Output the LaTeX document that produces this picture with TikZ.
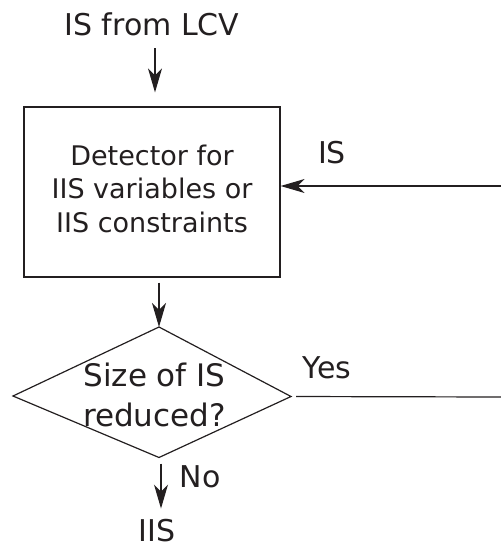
\documentclass[tikz,border=0pt]{standalone}
\usepackage{fontspec}
\setmainfont{DejaVu Sans}
\usetikzlibrary{arrows.meta}
\definecolor{ink}{RGB}{35,31,32}
\tikzset{
  arr/.style={draw=ink, line width=1.2pt, -{Stealth[length=24pt, width=14pt, inset=7pt]}},
  plain/.style={draw=ink, line width=1.2pt},
  lbl/.style={inner sep=0pt, text=ink, font=\fontsize{30}{36}\selectfont},
  boxtext/.style={inner sep=0pt, text=ink, align=center, font=\fontsize{27}{33.5}\selectfont},
  dtext/.style={inner sep=0pt, text=ink, align=center, font=\fontsize{31}{40}\selectfont},
  detbox/.style={draw=ink, line width=1.2pt, minimum width=256pt, minimum height=170pt, inner sep=0pt}
}
\begin{document}
\begin{tikzpicture}[x=1pt, y=-1pt]
\path[use as bounding box] (0,0) rectangle (501,547);

% nodes
\node[lbl, anchor=base] (title) at (152,35.5) {IS from LCV};
\node[detbox] (det) at (152,192) {};
\node[boxtext] (dettext) at (152,188.5) {Detector for\\IIS variables or\\IIS constraints};

\coordinate (dtop) at (159,327);
\coordinate (dright) at (291,396.5);
\coordinate (dbot) at (159,457.5);
\coordinate (dleft) at (13,396);
\draw[plain, line join=miter] (dtop) -- (dright) -- (dbot) -- (dleft) -- cycle;
\node[dtext] (dq) at (154.5,395) {Size of IS\\reduced?};

\node[lbl, anchor=base] (islbl) at (332,163) {IS};
\node[lbl, anchor=base] (yeslbl) at (327,378) {Yes};
\node[lbl, anchor=base] (nolbl) at (200,487) {No};
\node[lbl, anchor=base] (iis) at (157,541) {IIS};

\coordinate (isin) at (501,186);
\coordinate (yesend) at (501,397);

% connectors
\draw[arr, shorten <=12pt, shorten >=14pt] ([xshift=3pt]title.south) -- ([xshift=3pt]title.south |- det.north);
\draw[arr] (isin) -- (det.east |- isin);
\draw[arr, shorten <=5pt] (dtop |- det.south) -- (dtop);
\draw[plain, shorten <=5pt] (dright) -- (yesend);
\draw[arr, shorten <=6pt, shorten >=10pt] ([xshift=2pt]dbot) -- ([xshift=2pt]dbot |- iis.north);
\end{tikzpicture}
\end{document}
